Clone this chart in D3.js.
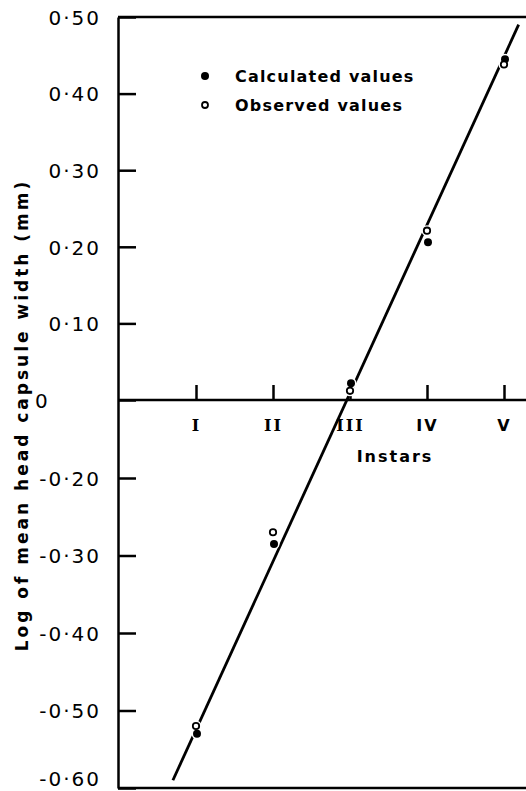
<!DOCTYPE html>
<html>
<head>
<meta charset="utf-8">
<script src="https://cdn.jsdelivr.net/npm/d3@7"></script>
<style>
  body { margin: 0; background: #fff; }
  svg text { font-family: "DejaVu Sans", sans-serif; font-weight: bold; fill: #000; }
</style>
</head>
<body>
<svg id="chart"></svg>
<script>
// chart data
var instars = [1, 2, 3, 4, 5];
var instarLabels = ["I", "II", "III", "IV", "V"];
var calculated = [-0.53, -0.285, 0.022, 0.206, 0.445];
var observed = [-0.52, -0.27, 0.012, 0.221, 0.438];
// fitted line end points (instar, log width)
var fitX = [0.7, 5.19];
var fitY = [-0.59, 0.49];
// y axis tick values and labels (no -0.10 on the original)
var yTicks = [0.5, 0.4, 0.3, 0.2, 0.1, 0, -0.2, -0.3, -0.4, -0.5, -0.6];
var yTickLabels = ["0·50", "0·40", "0·30", "0·20", "0·10", "0", "-0·20", "-0·30", "-0·40", "-0·50", "-0·60"];

var width = 526, height = 791;
var plotLeft = 118, plotRight = 526, plotTop = 17, plotBottom = 788;

var svg = d3.select("#chart")
    .attr("width", width)
    .attr("height", height);

// x scale: instar number
var x = d3.scaleLinear()
    .domain([1, 5])
    .range([196, 504]);

// y scale is piecewise: the gap from 0 to -0.20 is drawn as one step
var y = d3.scaleLinear()
    .domain([0.5, 0, -0.2, -0.6])
    .range([plotTop, 400, 478, plotBottom]);

// frame: top and bottom lines
svg.append("line")
    .attr("x1", plotLeft).attr("x2", plotRight)
    .attr("y1", plotTop).attr("y2", plotTop)
    .attr("stroke", "#000").attr("stroke-width", 2.5);
svg.append("line")
    .attr("x1", plotLeft).attr("x2", plotRight)
    .attr("y1", plotBottom).attr("y2", plotBottom)
    .attr("stroke", "#000").attr("stroke-width", 2.5);

// y axis with ticks pointing inside
var yAxis = d3.axisLeft(y)
    .tickValues(yTicks)
    .tickSizeInner(-18)
    .tickSizeOuter(0)
    .tickPadding(17)
    .tickFormat(function (d, i) { return yTickLabels[i]; });

var gy = svg.append("g")
    .attr("transform", "translate(" + plotLeft + ",0)")
    .call(yAxis);
gy.select(".domain").attr("stroke-width", 2.5);
gy.selectAll(".tick line").attr("stroke-width", 2.5);
gy.selectAll(".tick text")
    .style("font-size", "20px")
    .style("font-weight", "normal")
    .style("letter-spacing", "2px")
    .attr("dy", function (d) { return d === -0.6 ? "-0.15em" : "0.36em"; });
// the zero label sits in the first digit column
gy.selectAll(".tick text")
    .filter(function (d) { return d === 0; })
    .attr("x", -83)
    .attr("text-anchor", "start");

// x axis along y = 0
svg.append("line")
    .attr("x1", plotLeft).attr("x2", plotRight)
    .attr("y1", y(0)).attr("y2", y(0))
    .attr("stroke", "#000").attr("stroke-width", 2.5);

var xAxis = d3.axisBottom(x)
    .tickValues(instars)
    .tickSizeInner(-15)
    .tickSizeOuter(0)
    .tickPadding(20)
    .tickFormat(function (d, i) { return instarLabels[i]; });

var gx = svg.append("g")
    .attr("transform", "translate(0," + y(0) + ")")
    .call(xAxis);
gx.select(".domain").remove();
gx.selectAll(".tick line").attr("stroke-width", 2.5);
gx.selectAll(".tick text")
    .style("font-size", "16px")
    .style("font-family", function (d, i) {
        return /^I+$/.test(instarLabels[i]) ? "'DejaVu Serif', serif" : "'DejaVu Sans', sans-serif";
    })
    .style("letter-spacing", "2px");

// axis titles
svg.append("text")
    .attr("x", 395)
    .attr("y", 462)
    .attr("text-anchor", "middle")
    .style("font-size", "16px")
    .style("letter-spacing", "2px")
    .text("Instars");

svg.append("text")
    .attr("transform", "translate(28,415) rotate(-90)")
    .attr("text-anchor", "middle")
    .style("font-size", "17px")
    .style("letter-spacing", "3px")
    .text("Log of mean head capsule width (mm)");

// fitted line
var line = d3.line()
    .x(function (d) { return x(d[0]); })
    .y(function (d) { return y(d[1]); });

svg.append("path")
    .datum(d3.zip(fitX, fitY))
    .attr("d", line)
    .attr("fill", "none")
    .attr("stroke", "#000")
    .attr("stroke-width", 2.8);

// white halos make the small breaks in the line around the points
var pts = instars.map(function (d, i) {
    return { x: d, calc: calculated[i], obs: observed[i] };
});

var halo = svg.append("g");
halo.selectAll("circle.hc")
    .data(pts).enter().append("circle")
    .attr("cx", function (d) { return x(d.x) + 1; })
    .attr("cy", function (d) { return y(d.calc); })
    .attr("r", 5.5)
    .attr("fill", "#fff");
halo.selectAll("circle.ho")
    .data(pts).enter().append("circle")
    .attr("cx", function (d) { return x(d.x); })
    .attr("cy", function (d) { return y(d.obs); })
    .attr("r", 5.5)
    .attr("fill", "#fff");

// calculated values (filled)
svg.append("g").selectAll("circle")
    .data(pts).enter().append("circle")
    .attr("cx", function (d) { return x(d.x) + 1; })
    .attr("cy", function (d) { return y(d.calc); })
    .attr("r", 4)
    .attr("fill", "#000");

// observed values (open)
svg.append("g").selectAll("circle")
    .data(pts).enter().append("circle")
    .attr("cx", function (d) { return x(d.x); })
    .attr("cy", function (d) { return y(d.obs); })
    .attr("r", 3.2)
    .attr("fill", "#fff")
    .attr("stroke", "#000")
    .attr("stroke-width", 1.8);

// legend
var legend = svg.append("g")
    .attr("transform", "translate(205,76)");
legend.append("circle")
    .attr("cx", 0).attr("cy", 0).attr("r", 4)
    .attr("fill", "#000");
legend.append("text")
    .attr("x", 30).attr("y", 6)
    .style("font-size", "16px")
    .style("letter-spacing", "1.2px")
    .text("Calculated values");
legend.append("circle")
    .attr("cx", 0).attr("cy", 29).attr("r", 3)
    .attr("fill", "#fff")
    .attr("stroke", "#000")
    .attr("stroke-width", 1.8);
legend.append("text")
    .attr("x", 30).attr("y", 35)
    .style("font-size", "16px")
    .style("letter-spacing", "1.2px")
    .text("Observed values");
</script>
</body>
</html>
